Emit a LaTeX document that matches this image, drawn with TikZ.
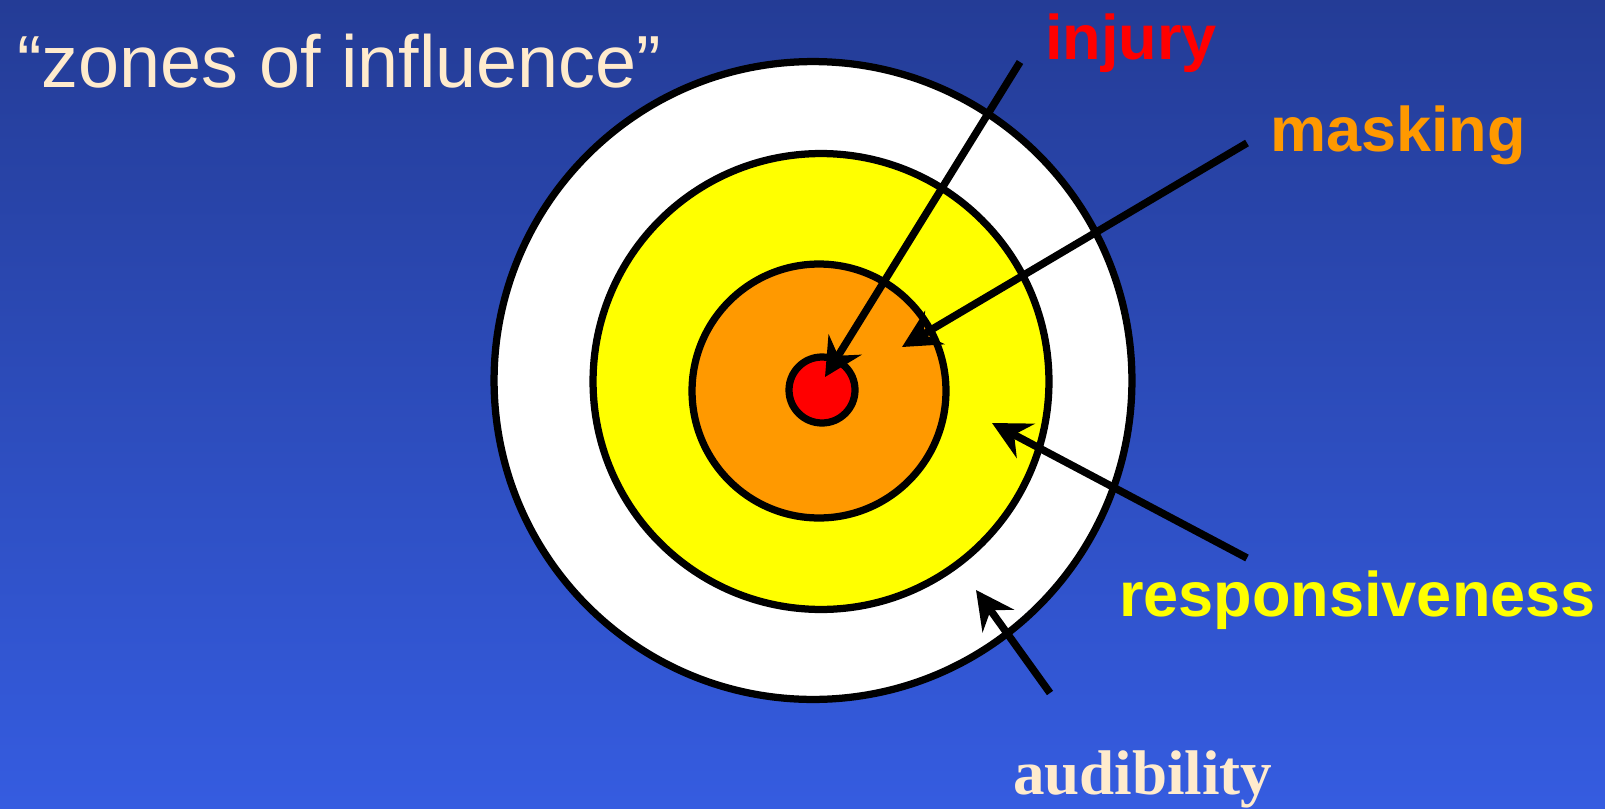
\documentclass[tikz,border=0pt]{standalone}
\usepackage{fontspec}
\setmainfont{Liberation Sans}
\newfontfamily\serifbold{Liberation Serif}
\usetikzlibrary{arrows.meta}
\definecolor{bgtop}{RGB}{36,60,150}
\definecolor{bgbot}{RGB}{53,92,224}
\definecolor{cream}{RGB}{255,235,205}
\definecolor{zorange}{RGB}{255,153,0}
\definecolor{zyellow}{RGB}{255,255,0}
\definecolor{zred}{RGB}{255,0,0}
\tikzset{
  zone/.style={circle, draw=black, line width=0.145cm, inner sep=0pt, outer sep=0pt},
  pointer/.style={draw=black, line width=0.15cm, line cap=butt,
    -{Stealth[length=0.76cm, width=0.77cm, inset=0.26cm]}},
  lbl/.style={anchor=base west, inner sep=0pt, outer sep=0pt,
    font=\fontsize{35.9pt}{40pt}\selectfont\bfseries},
}
\begin{document}
\begin{tikzpicture}[x=0.02cm, y=-0.02cm]
\shade[top color=bgtop, bottom color=bgbot] (0,0) rectangle (1605,808);
\useasboundingbox (0,0) rectangle (1605,808);

\node[zone, fill=white, minimum size=12.76cm] (outer) at (813,380.5) {};
\node[zone, fill=zyellow, minimum size=9.12cm] (yellow) at (821,381.5) {};
\node[zone, fill=zorange, minimum size=5.08cm] (orange) at (819,391) {};
\node[zone, fill=zred, minimum size=1.32cm] (red) at (822,390) {};

\node[anchor=base west, inner sep=0pt, text=cream,
  font=\fontsize{42pt}{48pt}\selectfont] (title) at (17,87) {“zones of influence”};

\node[lbl, text=zred] (injury) at (1045,59) {injury};
\node[lbl, text=zorange] (masking) at (1270,151) {masking};
\node[lbl, text=zyellow] (resp) at (1119,616) {responsiveness};
\node[lbl, text=cream, font=\fontsize{35.9pt}{40pt}\serifbold\bfseries] (aud) at (1013,794) {audibility};

\coordinate (tInj) at (1020,62);
\coordinate (hInj) at (825,377);
\coordinate (tMask) at (1247,143);
\coordinate (hMask) at (902,347);
\coordinate (tResp) at (1247,558);
\coordinate (hResp) at (992,423);
\coordinate (tAud) at (1050,693);
\coordinate (hAud) at (976,590);

\draw[pointer] (tInj) -- (hInj);
\draw[pointer] (tMask) -- (hMask);
\draw[pointer] (tResp) -- (hResp);
\draw[pointer] (tAud) -- (hAud);
\end{tikzpicture}
\end{document}
